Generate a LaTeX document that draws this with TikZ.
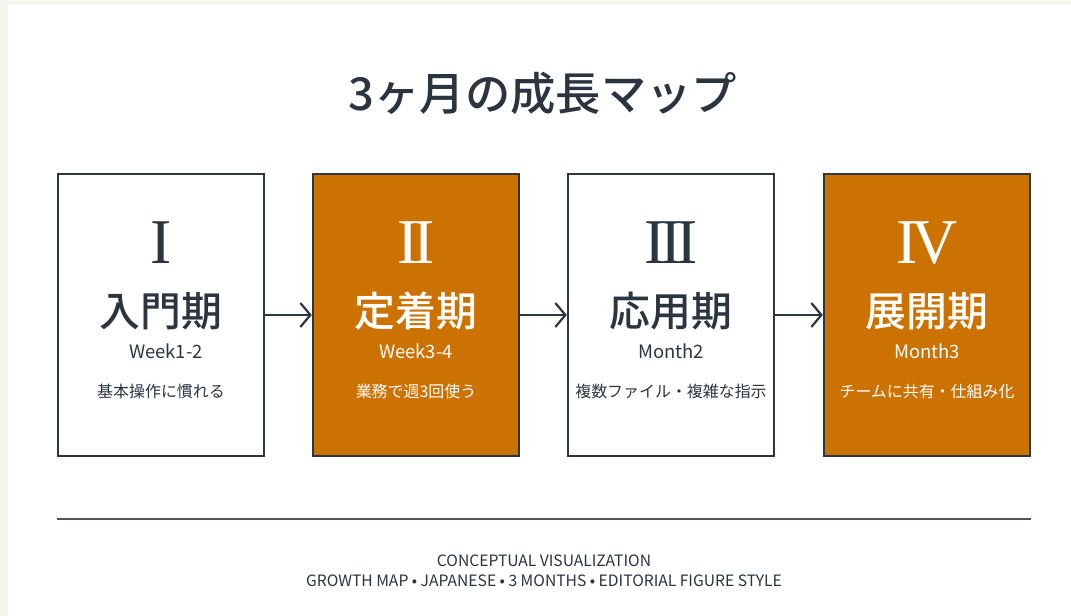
\documentclass[tikz,border=0pt]{standalone}
\usepackage{fontspec}
\newfontfamily\jp{Noto Sans CJK JP}
\newfontfamily\jpm{Noto Sans CJK JP Medium}
\newfontfamily\numfont{Liberation Serif}
\usetikzlibrary{arrows.meta}
\definecolor{ink}{HTML}{2B3540}
\definecolor{boxline}{HTML}{2E3640}
\definecolor{accent}{HTML}{CC7203}
\definecolor{rulec}{HTML}{50575E}
\definecolor{edge}{HTML}{F6F5F0}
\tikzset{
  phase/.style={draw=boxline, line width=2.4bp, minimum width=206bp, minimum height=282bp, inner sep=0pt},
  plain/.style={phase, fill=white},
  hot/.style={phase, fill=accent},
  numeral/.style={font=\numfont\fontsize{64}{64}\selectfont, inner sep=0pt},
  pname/.style={font=\jpm\fontsize{41}{41}\selectfont, inner sep=0pt},
  pwhen/.style={font=\jp\fontsize{18.5}{18.5}\selectfont, inner sep=0pt},
  pdesc/.style={font=\jp\fontsize{16}{16}\selectfont, inner sep=0pt},
  foot/.style={font=\jp\fontsize{15.7}{15.7}\selectfont, text=ink, inner sep=0pt},
  flow/.style={draw=boxline, line width=2bp, -{Straight Barb[length=10bp,width=24bp,line width=2.2bp]}},
}
\begin{document}
\begin{tikzpicture}[x=1bp,y=-1bp]
\useasboundingbox (0,0) rectangle (1071,616);
\fill[edge] (0,0) rectangle (1071,616);
\fill[white] (8,5) rectangle (1071,616);

\node[font=\jpm\fontsize{45.5}{45.5}\selectfont, text=ink, inner sep=0pt] (title) at (543,93) {3ヶ月の成長マップ};

\node[plain] (b1) at (161,315) {};
\node[hot]   (b2) at (416,315) {};
\node[plain] (b3) at (671,315) {};
\node[hot]   (b4) at (927,315) {};

% box 1
\node[numeral, text=ink] (n1) at (161,243) {I};
\node[pname, text=ink] (p1) at (161,311) {入門期};
\node[pwhen, text=ink] (w1) at (166,351) {Week1-2};
\node[pdesc, text=ink] (d1) at (161,391) {基本操作に慣れる};
% box 2
\node[numeral, text=white] (n2) at (416,243) {I\kern-5bp I};
\node[pname, text=white] (p2) at (416,311) {定着期};
\node[pwhen, text=white] (w2) at (416,351) {Week3-4};
\node[pdesc, text=white] (d2) at (416,391) {業務で週3回使う};
% box 3
\node[numeral, text=ink] (n3) at (671,243) {I\kern-5bp I\kern-5bp I};
\node[pname, text=ink] (p3) at (671,311) {応用期};
\node[pwhen, text=ink] (w3) at (671,351) {Month2};
\node[pdesc, text=ink] (d3) at (671,391) {複数ファイル・複雑な指示};
% box 4
\node[numeral, text=white] (n4) at (927,243) {I\kern-6bp V};
\node[pname, text=white] (p4) at (927,311) {展開期};
\node[pwhen, text=white] (w4) at (927,351) {Month3};
\node[pdesc, text=white] (d4) at (927,391) {チームに共有・仕組み化};

\draw[flow] (b1.east) -- (b2.west);
\draw[flow] (b2.east) -- (b3.west);
\draw[flow] (b3.east) -- (b4.west);

\coordinate (rl) at (57,519);
\coordinate (rr) at (1031,519);
\draw[rulec, line width=1.8bp] (rl) -- (rr);

\node[foot] (f1) at (544,561) {CONCEPTUAL VISUALIZATION};
\node[foot] (f2) at (544,581) {GROWTH MAP • JAPANESE • 3 MONTHS • EDITORIAL FIGURE STYLE};
\end{tikzpicture}
\end{document}
